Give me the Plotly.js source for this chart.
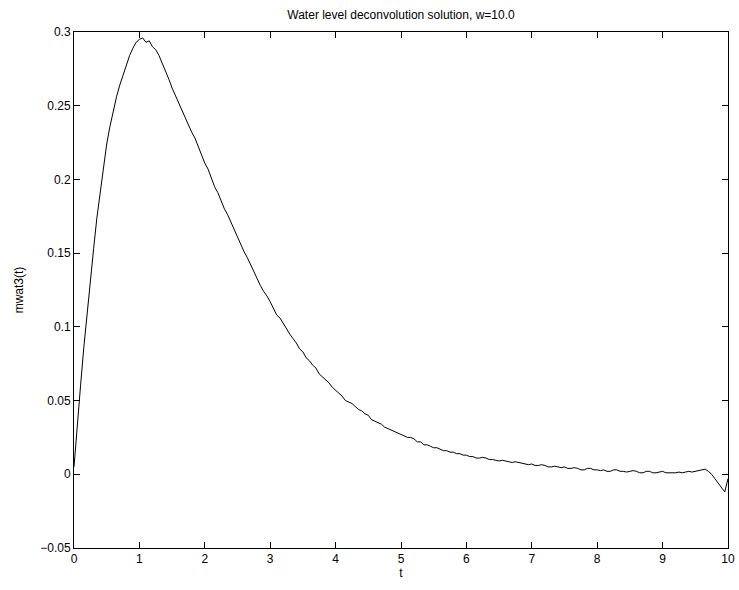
<!DOCTYPE html>
<html>
<head>
<meta charset="utf-8">
<script src="https://cdn.plot.ly/plotly-3.0.1.min.js"></script>
<style>html,body{margin:0;padding:0;background:#fff;}#chart{width:739px;height:590px;}</style>
</head>
<body>
<div id="chart"></div>
<script>
// Time samples (t) and estimated solution values mwat3(t)
const tValues = [
  0.00,0.05,0.10,0.15,0.20,0.25,0.30,0.35,0.40,0.45,
  0.50,0.55,0.60,0.65,0.70,0.75,0.80,0.85,0.90,0.95,
  1.00,1.05,1.10,1.15,1.20,1.25,1.30,1.35,1.40,1.45,
  1.50,1.55,1.60,1.65,1.70,1.75,1.80,1.85,1.90,1.95,
  2.00,2.05,2.10,2.15,2.20,2.25,2.30,2.35,2.40,2.45,
  2.50,2.55,2.60,2.65,2.70,2.75,2.80,2.85,2.90,2.95,
  3.00,3.05,3.10,3.15,3.20,3.25,3.30,3.35,3.40,3.45,
  3.50,3.55,3.60,3.65,3.70,3.75,3.80,3.85,3.90,3.95,
  4.00,4.05,4.10,4.15,4.20,4.25,4.30,4.35,4.40,4.45,
  4.50,4.55,4.60,4.65,4.70,4.75,4.80,4.85,4.90,4.95,
  5.00,5.05,5.10,5.15,5.20,5.25,5.30,5.35,5.40,5.45,
  5.50,5.55,5.60,5.65,5.70,5.75,5.80,5.85,5.90,5.95,
  6.00,6.05,6.10,6.15,6.20,6.25,6.30,6.35,6.40,6.45,
  6.50,6.55,6.60,6.65,6.70,6.75,6.80,6.85,6.90,6.95,
  7.00,7.05,7.10,7.15,7.20,7.25,7.30,7.35,7.40,7.45,
  7.50,7.55,7.60,7.65,7.70,7.75,7.80,7.85,7.90,7.95,
  8.00,8.05,8.10,8.15,8.20,8.25,8.30,8.35,8.40,8.45,
  8.50,8.55,8.60,8.65,8.70,8.75,8.80,8.85,8.90,8.95,
  9.00,9.05,9.10,9.15,9.20,9.25,9.30,9.35,9.40,9.45,
  9.50,9.55,9.60,9.65,9.70,9.75,9.80,9.85,9.90,9.95,
  10.00
];
const mwat3Values = [
  0.005,0.035,0.060,0.086,0.110,0.132,0.153,0.174,0.192,0.209,
  0.224,0.236,0.247,0.256,0.264,0.271,0.278,0.284,0.289,0.293,
  0.295,0.296,0.293,0.294,0.290,0.288,0.284,0.279,0.273,0.268,
  0.262,0.257,0.252,0.246,0.242,0.237,0.232,0.228,0.222,0.216,
  0.211,0.207,0.201,0.195,0.191,0.185,0.180,0.176,0.171,0.165,
  0.160,0.156,0.151,0.147,0.142,0.137,0.133,0.128,0.124,0.121,
  0.117,0.112,0.108,0.106,0.102,0.098,0.095,0.092,0.089,0.085,
  0.083,0.079,0.077,0.074,0.072,0.068,0.066,0.064,0.062,0.059,
  0.057,0.055,0.053,0.050,0.049,0.048,0.046,0.044,0.043,0.041,
  0.040,0.037,0.036,0.035,0.034,0.032,0.031,0.030,0.029,0.028,
  0.027,0.026,0.025,0.025,0.024,0.022,0.022,0.020,0.020,0.019,
  0.018,0.018,0.017,0.016,0.016,0.015,0.015,0.014,0.014,0.013,
  0.013,0.012,0.012,0.011,0.011,0.0115,0.011,0.010,0.010,0.0095,
  0.009,0.0095,0.009,0.008,0.008,0.0085,0.008,0.007,0.007,0.0065,
  0.007,0.006,0.006,0.0065,0.006,0.005,0.005,0.0055,0.005,0.0045,
  0.005,0.004,0.004,0.0045,0.004,0.003,0.003,0.004,0.004,0.003,
  0.003,0.0025,0.003,0.002,0.002,0.003,0.003,0.002,0.002,0.0015,
  0.002,0.0025,0.002,0.001,0.001,0.002,0.002,0.001,0.001,0.0015,
  0.002,0.001,0.001,0.0005,0.001,0.0015,0.001,0.0015,0.002,0.0015,
  0.002,0.0025,0.003,0.0035,0.002,0.000,-0.003,-0.006,-0.009,-0.012,
  -0.003
];
const xTickVals = [0,1,2,3,4,5,6,7,8,9,10];
const yTickVals = [-0.05,0,0.05,0.1,0.15,0.2,0.25,0.3];

const fontFamily = 'Liberation Sans, Arial, Helvetica, sans-serif';

const trace = {
  x: tValues,
  y: mwat3Values,
  type: 'scatter',
  mode: 'lines',
  line: {color: '#000000', width: 1},
  hoverinfo: 'skip'
};

const axisCommon = {
  showline: true,
  linecolor: '#000000',
  linewidth: 1,
  mirror: 'ticks',
  ticks: 'inside',
  ticklen: 6,
  tickwidth: 1,
  tickcolor: '#000000',
  showgrid: false,
  zeroline: false,
  tickfont: {family: fontFamily, size: 12, color: '#000000'}
};

const layout = {
  width: 739,
  height: 590,
  margin: {l: 74, r: 11, t: 32, b: 42},
  paper_bgcolor: '#ffffff',
  plot_bgcolor: '#ffffff',
  showlegend: false,
  font: {family: fontFamily, size: 12, color: '#000000'},
  title: {
    text: 'Water level deconvolution solution, w=10.0',
    font: {family: fontFamily, size: 12, color: '#000000'},
    x: 0.5, xref: 'paper', xanchor: 'center',
    y: 1 - 15/590, yref: 'container', yanchor: 'middle'
  },
  xaxis: Object.assign({}, axisCommon, {
    range: [0, 10],
    tickvals: xTickVals,
    title: {text: 't', font: {family: fontFamily, size: 12, color: '#000000'}, standoff: 2}
  }),
  yaxis: Object.assign({}, axisCommon, {
    range: [-0.05, 0.3],
    tickvals: yTickVals,
    title: {text: 'mwat3(t)', font: {family: fontFamily, size: 12, color: '#000000'}, standoff: 14}
  })
};

Plotly.newPlot('chart', [trace], layout, {displayModeBar: false, staticPlot: true});
</script>
</body>
</html>
